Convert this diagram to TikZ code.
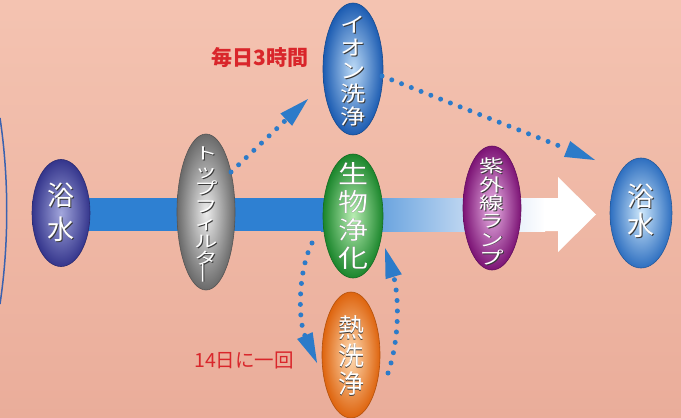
\documentclass[tikz,border=0pt]{standalone}
\usepackage{fontspec}
\newfontfamily\jp{Noto Sans CJK JP}
\newfontfamily\jpw{Noto Sans CJK JP}[FakeStretch=1.2]
\newfontfamily\jpww{Noto Sans CJK JP}[FakeStretch=1.4]
\usetikzlibrary{shapes.geometric,arrows.meta,calc}
\definecolor{bgtop}{HTML}{F4C3B1}
\definecolor{bgbot}{HTML}{EAAD9A}
\definecolor{barblue}{HTML}{2E80D2}
\definecolor{barlight}{HTML}{C3D9F2}
\definecolor{arrowblue}{HTML}{2C7BC9}
\definecolor{arcblue}{HTML}{3A62B0}
\definecolor{labelred}{HTML}{D9262B}
\definecolor{txtshadow}{HTML}{3A3A3A}
\definecolor{bathLin}{HTML}{A2A6DC}
\definecolor{bathLout}{HTML}{34358C}
\definecolor{filterin}{HTML}{EDEDED}
\definecolor{filterout}{HTML}{6A6A6A}
\definecolor{ionin}{HTML}{BCDAF6}
\definecolor{ionout}{HTML}{1C5CB2}
\definecolor{bioin}{HTML}{B8EDB2}
\definecolor{bioout}{HTML}{1B862C}
\definecolor{heatin}{HTML}{FFDCB4}
\definecolor{heatout}{HTML}{DE640E}
\definecolor{uvin}{HTML}{EAB4E6}
\definecolor{uvout}{HTML}{7C1375}
\definecolor{bathRin}{HTML}{CDE7FB}
\definecolor{bathRout}{HTML}{2E6FC0}
\newcommand\sh[1]{\makebox[0pt][l]{\kern0.9pt\raisebox{-0.9pt}{\textcolor{txtshadow}{#1}}}#1}
\newcommand\chouon{\raisebox{-0.1em}{\rotatebox{90}{ー}}}
\begin{document}
\begin{tikzpicture}[x=1pt,y=-1pt,
  ell/.style 2 args={ellipse, inner sep=0pt, shade, inner color=#1, outer color=#2, draw=#2!80!black, line width=0.6pt},
  vt/.style={text=white, align=center, inner sep=0pt},
  vfont/.style 2 args={font={\jp\fontsize{#1}{#2}\selectfont\lineskiplimit=-100pt}},
  vwfont/.style 2 args={font={\jpw\fontsize{#1}{#2}\selectfont\lineskiplimit=-100pt}},
  vwwfont/.style 2 args={font={\jpww\fontsize{#1}{#2}\selectfont\lineskiplimit=-100pt}},
  dotarrow/.style={draw=arrowblue, line width=5pt, line cap=round, dash pattern=on 0pt off 10.5pt, -{Triangle[length=30pt,width=17pt,line width=0pt]}},
  redlabel/.style={text=labelred, inner sep=0pt}]
\useasboundingbox (0,0) rectangle (681,418);
\shade[top color=bgtop, bottom color=bgbot] (0,0) rectangle (681,418);
% left arc
\draw[arcblue, line width=1.5pt] (0,118) .. controls (9,178) and (9,244) .. (0,304);
% main bar
\fill[barblue] (85,198) rectangle (322,231);
\shade[left color=barblue, right color=barlight] (321,198) rectangle (470,231);
\shade[left color=barlight, right color=white] (469,198) rectangle (545,231);
\fill[white] (544,198) -- (558,198) -- (558,177) -- (596,214.5) -- (558,252) -- (558,231) -- (544,231) -- cycle;
% ellipses
\node[ell={bathLin}{bathLout}, minimum width=58pt, minimum height=107pt] (bathL) at (61,213) {};
\node[ell={filterin}{filterout}, minimum width=58pt, minimum height=156pt] (filter) at (206,212) {};
\node[ell={ionin}{ionout}, minimum width=60pt, minimum height=132pt] (ion) at (353,69) {};
\node[ell={bioin}{bioout}, minimum width=60pt, minimum height=124pt] (bio) at (353,216) {};
\node[ell={heatin}{heatout}, minimum width=58pt, minimum height=126pt] (heat) at (351,355) {};
\node[ell={uvin}{uvout}, minimum width=58pt, minimum height=124pt] (uv) at (492,208) {};
\node[ell={bathRin}{bathRout}, minimum width=62pt, minimum height=110pt] (bathR) at (641,213) {};
% texts
\node[vt, vfont={27}{34}] (bathLt) at (61,212.5) {\sh{浴}\\\sh{水}};
\node[vt, vwwfont={16.5}{17.5}] (filterT) at (206,216) {\sh{ト}\\\sh{ッ}\\\sh{プ}\\\sh{フ}\\\sh{ィ}\\\sh{ル}\\\sh{タ}\\\sh{\chouon}};
\node[vt, vwfont={21}{23}] (ionT) at (353,72) {\sh{イ}\\\sh{オ}\\\sh{ン}\\\sh{洗}\\\sh{浄}};
\node[vt, vwfont={25}{28}] (bioT) at (353,216) {\sh{生}\\\sh{物}\\\sh{浄}\\\sh{化}};
\node[vt, vfont={26}{28}] (heatT) at (351,356) {\sh{熱}\\\sh{洗}\\\sh{浄}};
\node[vt, vwwfont={17.5}{18.3}] (uvT) at (492,212) {\sh{紫}\\\sh{外}\\\sh{線}\\\sh{ラ}\\\sh{ン}\\\sh{プ}};
\node[vt, vfont={27}{29}] (bathRt) at (641,211) {\sh{浴}\\\sh{水}};
% labels
\node[redlabel, font=\jp\bfseries\fontsize{21}{21}\selectfont] (daily) at (260,58) {毎日3時間};
\node[redlabel, font=\jp\fontsize{19.5}{19.5}\selectfont] (biweekly) at (244,360) {14日に一回};
% dotted arrows
\draw[dotarrow] ($(filter)+(25,-40)$) -- ($(ion)+(-45,30)$);
\draw[dotarrow] ($(ion)+(29,7)$) -- ($(bathR)+(-46,-53)$);
\draw[dotarrow] ($(bio)+(-41,27)$) .. controls ($(bio)+(-55,55)$) and ($(heat)+(-53,-35)$) .. ($(heat)+(-34,8)$);
\draw[dotarrow] ($(heat)+(37,18)$) .. controls ($(heat)+(50,-20)$) and ($(bio)+(45,75)$) .. ($(bio)+(32,32)$);
\end{tikzpicture}
\end{document}
